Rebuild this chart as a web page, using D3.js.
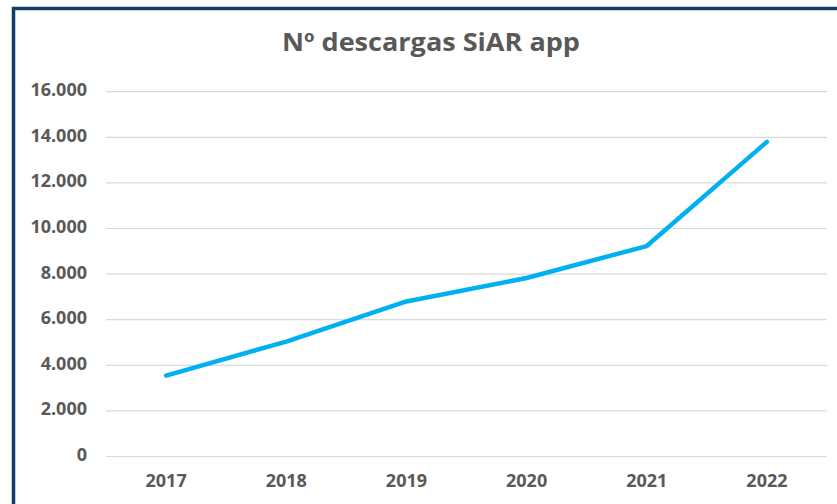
<!DOCTYPE html>
<html>
<head>
<meta charset="utf-8">
<script src="https://cdnjs.cloudflare.com/ajax/libs/d3/7.8.5/d3.min.js"></script>
<style>
  body { margin: 0; background: #fff; }
  svg { display: block; font-family: "Open Sans", "Noto Sans", sans-serif; }
</style>
</head>
<body>
<div id="chart"></div>
<script>
const years = ['2017', '2018', '2019', '2020', '2021', '2022'];
const downloads = [3550, 5040, 6800, 7830, 9230, 13800];
const yTicks = [0, 2000, 4000, 6000, 8000, 10000, 12000, 14000, 16000];

const W = 837, H = 504;
const textColor = '#595959';

const svg = d3.select('#chart').append('svg')
    .attr('width', W)
    .attr('height', H);

// frame (top + left border only, rest is cropped)
svg.append('path')
    .attr('d', `M13.5,${H} L13.5,8.5 L${W},8.5`)
    .attr('fill', 'none')
    .attr('stroke', '#123c6e')
    .attr('stroke-width', 3.5);

// Scales
const x = d3.scaleBand().domain(years).range([106, 827]);
const y = d3.scaleLinear().domain([0, 16000]).range([456.5, 91.7]);

const fmt = d => d3.format(',')(d).replace(/,/g, '.');

// gridlines
svg.append('g')
    .selectAll('line')
    .data(yTicks)
    .join('line')
    .attr('x1', 106)
    .attr('x2', 827)
    .attr('y1', d => y(d))
    .attr('y2', d => y(d))
    .attr('stroke', '#d9d9d9')
    .attr('stroke-width', 1.2);

// y axis labels
svg.append('g')
    .attr('transform', 'translate(87,0)')
    .call(d3.axisLeft(y).tickValues(yTicks).tickFormat(fmt).tickSize(0).tickPadding(0))
    .call(g => g.select('.domain').remove())
    .selectAll('text')
    .attr('fill', textColor)
    .attr('font-size', '18px')
    .attr('font-weight', 'bold')
    .attr('font-family', '"Open Sans", sans-serif')
    .attr('dy', '0.22em');

// x axis labels
svg.append('g')
    .attr('transform', `translate(0,${y(0)})`)
    .call(d3.axisBottom(x).tickSize(0).tickPadding(18))
    .call(g => g.select('.domain').remove())
    .selectAll('text')
    .attr('fill', textColor)
    .attr('font-size', '18px')
    .attr('font-weight', 'bold')
    .attr('font-family', '"Open Sans", sans-serif');

// line
const line = d3.line()
    .x((d, i) => x(years[i]) + x.bandwidth() / 2)
    .y(d => y(d));

svg.append('path')
    .datum(downloads)
    .attr('fill', 'none')
    .attr('stroke', '#00b0f0')
    .attr('stroke-width', 4.5)
    .attr('stroke-linecap', 'round')
    .attr('stroke-linejoin', 'round')
    .attr('d', line);

// title
svg.append('text')
    .attr('x', 431)
    .attr('y', 51)
    .attr('text-anchor', 'middle')
    .attr('fill', textColor)
    .attr('font-size', '25px')
    .attr('font-weight', 'bold')
    .attr('textLength', 298)
    .attr('lengthAdjust', 'spacingAndGlyphs')
    .text('Nº descargas SiAR app');
</script>
</body>
</html>
